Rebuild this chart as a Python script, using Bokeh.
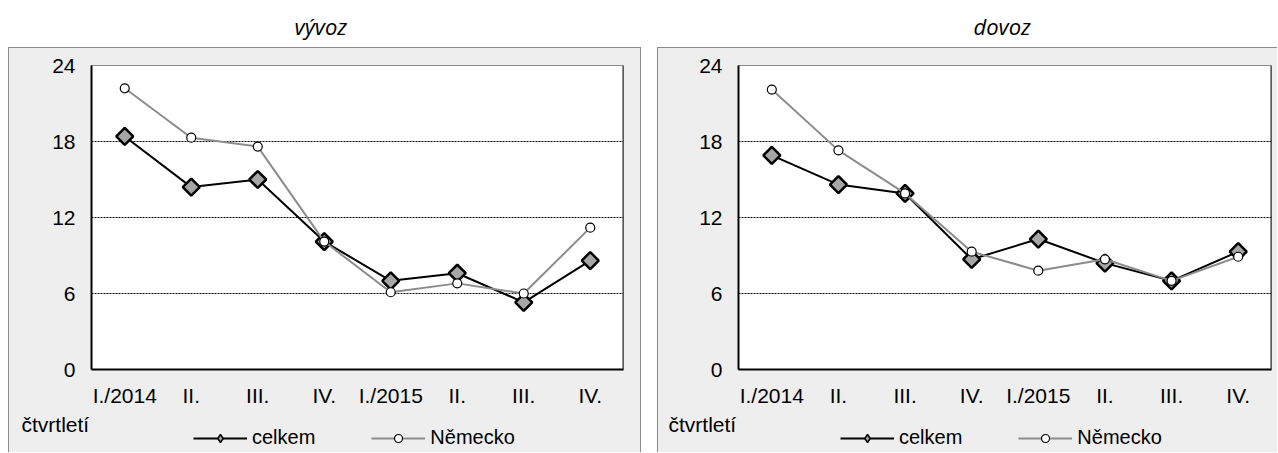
import math
from bokeh.plotting import figure
from bokeh.layouts import row, column, Spacer
from bokeh.models import FixedTicker, Range1d, Legend, LegendItem, Span, Label
from bokeh.embed import file_html
from bokeh.resources import INLINE

quarters = ["I./2014", "II.", "III.", "IV.", "I./2015", "II.", "III.", "IV."]
vyvoz_celkem = [18.4, 14.4, 15.0, 10.1, 7.0, 7.6, 5.3, 8.6]
vyvoz_nemecko = [22.2, 18.3, 17.6, 10.1, 6.1, 6.8, 6.0, 11.2]
dovoz_celkem = [16.9, 14.6, 13.9, 8.7, 10.3, 8.4, 7.0, 9.3]
dovoz_nemecko = [22.1, 17.3, 13.9, 9.3, 7.8, 8.7, 7.0, 8.9]
y_ticks = [0, 6, 12, 18, 24]
series_names = ["celkem", "Německo"]
panel_titles = ["vývoz", "dovoz"]
axis_title = "čtvrtletí"

FONT = "Liberation Sans"
BG = "#eeeeee"
FS = "21px"
BORDER = "1px solid #8c8c8c"
NAN = float("nan")

CELKEM_LINE = dict(line_color="#000000", line_width=2)
CELKEM_MARK = dict(marker="square", size=12, angle=math.pi / 4,
                   fill_color="#a6a6a6", line_color="#000000", line_width=2.5)
CELKEM_LEG_MARK = dict(marker="diamond", size=14,
                       fill_color="#a6a6a6", line_color="#000000", line_width=1.5)
NEM_LINE = dict(line_color="#8c8c8c", line_width=2)
NEM_MARK = dict(marker="circle", size=9, fill_color="#ffffff",
                line_color="#000000", line_width=1.2)


def make_panel(title_text, celkem, nemecko, width, title_x, b_left, b_right,
               cap_x, leg_x, main_styles, foot_styles):
    xs = list(range(len(quarters)))

    head = figure(width=width, height=39, toolbar_location=None, output_backend="svg",
                  x_axis_type=None, y_axis_type=None, min_border_left=0, min_border_right=0,
                  min_border_top=0, min_border_bottom=0, outline_line_color=None,
                  title=title_text, frame_align=False)
    head.title.align = "left"
    head.title.text_font = "Open Sans"
    head.title.text_font_style = "italic"
    head.title.text_font_size = "22px"
    head.title.text_color = "#000000"
    head.title.offset = title_x
    head.title.standoff = 0

    p = figure(width=width, height=362, toolbar_location=None, output_backend="svg",
               x_range=Range1d(-0.5, len(quarters) - 0.5), y_range=Range1d(0, 24),
               min_border_left=b_left, min_border_right=b_right,
               min_border_top=17, min_border_bottom=41,
               background_fill_color="#ffffff", border_fill_color=BG,
               outline_line_color="#8c8c8c", outline_line_width=1, frame_align=False)
    p.styles = main_styles

    p.yaxis.ticker = FixedTicker(ticks=y_ticks)
    p.xaxis.ticker = FixedTicker(ticks=xs)
    p.xaxis.major_label_overrides = {i: q for i, q in enumerate(quarters)}
    for ax in (p.xaxis[0], p.yaxis[0]):
        ax.major_tick_out = 0
        ax.major_tick_in = 0
        ax.minor_tick_out = 0
        ax.minor_tick_in = 0
        ax.axis_line_color = "#000000"
        ax.axis_line_width = 2
        ax.major_label_text_font = FONT
        ax.major_label_text_font_size = FS
        ax.major_label_text_color = "#000000"
    p.yaxis.major_label_standoff = 16
    p.xaxis.major_label_standoff = 14

    p.xgrid.visible = False
    p.ygrid.grid_line_color = "#000000"
    p.ygrid.grid_line_dash = "2 1"
    p.ygrid.grid_line_width = 1

    p.add_layout(Span(location=len(quarters) - 0.5, dimension="height",
                      line_color="#262626", line_width=2))

    p.line(xs, celkem, **CELKEM_LINE)
    p.scatter(xs, celkem, **CELKEM_MARK)
    p.line(xs, nemecko, **NEM_LINE)
    p.scatter(xs, nemecko, **NEM_MARK)

    # footer strip of the same grey panel: axis caption and legend
    fh = 43
    foot = figure(width=width, height=fh, toolbar_location=None, output_backend="svg",
                  x_axis_type=None, y_axis_type=None, x_range=Range1d(0, width),
                  y_range=Range1d(0, fh), min_border_left=0, min_border_right=0,
                  min_border_top=0, min_border_bottom=0, outline_line_color=None,
                  background_fill_color=BG, border_fill_color=BG, frame_align=False)
    foot.styles = foot_styles
    # legend proxies (no visible points)
    fl1 = foot.line([NAN], [NAN], **CELKEM_LINE)
    fs1 = foot.scatter([NAN], [NAN], **CELKEM_LEG_MARK)
    fl2 = foot.line([NAN], [NAN], **NEM_LINE)
    fs2 = foot.scatter([NAN], [NAN], **NEM_MARK)

    foot.add_layout(Label(x=cap_x, y=fh - 15, text=axis_title, text_baseline="middle",
                          text_align="left", text_font=FONT, text_font_size=FS,
                          text_color="#000000"))

    legend = Legend(items=[LegendItem(label=series_names[0], renderers=[fl1, fs1]),
                           LegendItem(label=series_names[1], renderers=[fl2, fs2])],
                    orientation="horizontal", location=(leg_x, 3),
                    padding=0, margin=0, spacing=56, glyph_width=54, glyph_height=20,
                    label_height=20, label_standoff=5,
                    label_text_font=FONT, label_text_font_size="20px",
                    label_text_color="#000000",
                    background_fill_alpha=0, border_line_color=None)
    foot.add_layout(legend, "center")

    body = column(p, foot, spacing=0, styles={"background-color": BG})
    return column(head, body, spacing=0)


left = make_panel(panel_titles[0], vyvoz_celkem, vyvoz_nemecko, 633, 286, 82, 19, 12, 184,
                  {"border-left": BORDER, "border-top": BORDER, "border-right": BORDER},
                  {"border-left": BORDER, "border-right": BORDER})
right = make_panel(panel_titles[1], dovoz_celkem, dovoz_nemecko, 620, 316, 80, 7, 10, 182,
                   {"border-left": BORDER, "border-top": BORDER},
                   {"border-left": BORDER})
root = column(Spacer(width=10, height=8),
              row(Spacer(width=8, height=10), left, Spacer(width=16, height=10), right,
                  spacing=0),
              spacing=0)

open("out.html", "w").write(file_html(root, INLINE))
